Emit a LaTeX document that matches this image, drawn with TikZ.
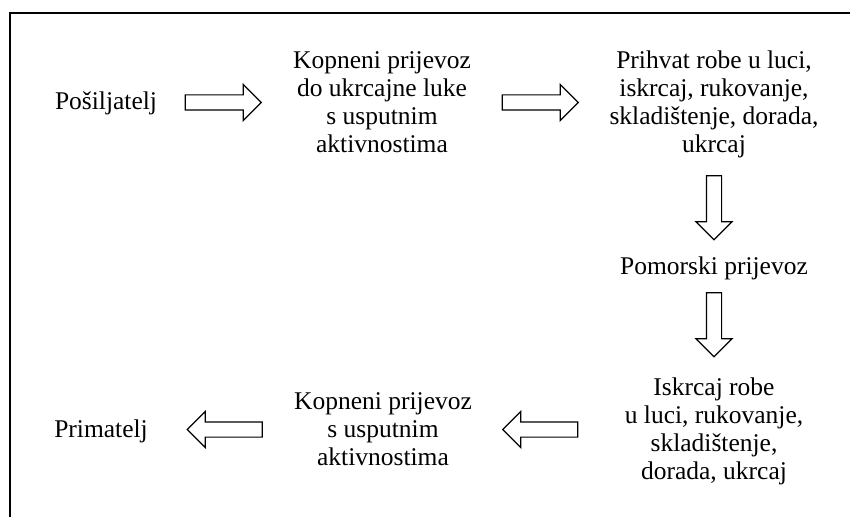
\documentclass[tikz,border=0pt]{standalone}
\usepackage{fontspec}
\setmainfont{Liberation Serif}
\usetikzlibrary{shapes.arrows}
\newcommand\mystrut{\rule[-6.5pt]{0pt}{28pt}}
\tikzset{
  lbl/.style={inner sep=0pt, align=center, font=\fontsize{25.5pt}{28pt}\selectfont},
  blk/.style={single arrow, draw=black, line width=1.2pt, fill=white,
    minimum height=#1, inner xsep=0pt, inner ysep=7pt,
    single arrow head extend=10.5pt, sloped, allow upside down},
  blk/.default=76pt,
  frameline/.style={line width=2pt}
}
\begin{document}
\begin{tikzpicture}[x=1pt,y=-1pt]
\useasboundingbox (0,0) rectangle (850,516);
\draw[frameline] (10,520) -- (10,13) -- (854,13);

\node[lbl] (n1) at (106,102.5) {\mystrut Pošiljatelj};
\node[lbl] (n2) at (382,102.5) {\mystrut Kopneni prijevoz\\\mystrut do ukrcajne luke\\\mystrut s usputnim\\\mystrut aktivnostima};
\node[lbl] (n3) at (714,102.5) {\mystrut Prihvat robe u luci,\\\mystrut iskrcaj, rukovanje,\\\mystrut skladištenje, dorada,\\\mystrut ukrcaj};
\node[lbl] (n4) at (714,267) {\mystrut Pomorski prijevoz};
\node[lbl] (n5) at (714,429.5) {\mystrut Iskrcaj robe\\\mystrut u luci, rukovanje,\\\mystrut skladištenje,\\\mystrut dorada, ukrcaj};
\node[lbl] (n6) at (383,429.5) {\mystrut Kopneni prijevoz\\\mystrut s usputnim\\\mystrut aktivnostima};
\node[lbl] (n7) at (101,429.5) {\mystrut Primatelj};

\path (n1.center) -- node[blk, pos=0.4112] (a1) {} (n2.center);
\path (n2.center) -- node[blk, pos=0.4654] (a2) {} (n3.center);
\path (n3.center) -- node[blk=64pt, pos=0.6170] (a3) {} (n4.center);
\path (n4.center) -- node[blk=64pt, pos=0.3323] (a4) {} (n5.center);
\path (n5.center) -- node[blk=75pt, pos=0.5136] (a5) {} (n6.center);
\path (n6.center) -- node[blk=75pt, pos=0.5479] (a6) {} (n7.center);
\end{tikzpicture}
\end{document}
